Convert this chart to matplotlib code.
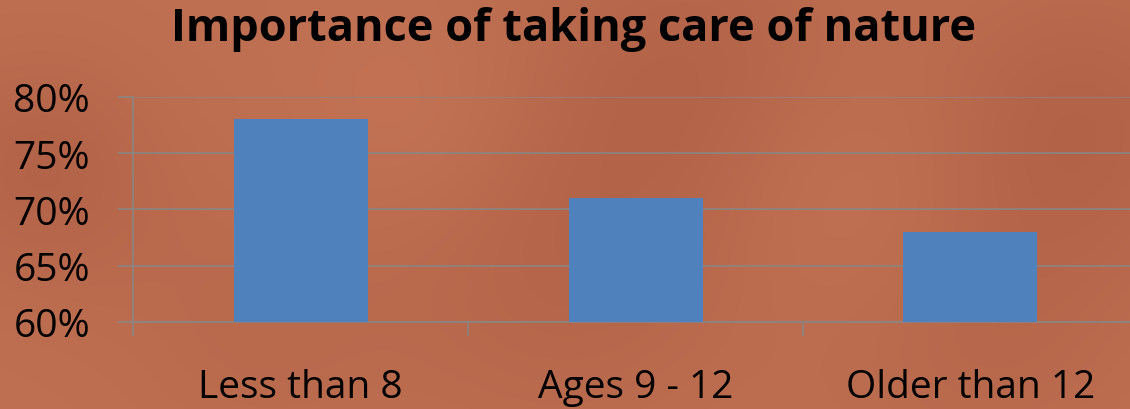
import numpy as np
import matplotlib
matplotlib.use("Agg")
from matplotlib import pyplot as plt

# Share of children who say caring for nature matters, by age group
groups = ["Less than 8", "Ages 9 - 12", "Older than 12"]
shares = [78, 71, 68]
yticks = [60, 65, 70, 75, 80]

plt.rcParams['font.family'] = ['Open Sans', 'DejaVu Sans']

fig = plt.figure(figsize=(11.3, 4.1), dpi=100)

# soft mottled terracotta backdrop
bg = fig.add_axes([0, 0, 1, 1])
gy, gx = np.mgrid[0:410, 0:1130]
base = np.array([192, 112, 82]) / 255.0
shade = np.zeros_like(gx, dtype=float)
for cx, cy, r, a in [(40, 170, 90, 0.6), (560, 260, 140, 0.5), (700, 60, 120, 0.5),
                     (1080, 120, 110, 0.6), (980, 330, 120, 0.4), (250, 330, 100, 0.3),
                     (420, 120, 80, -0.3), (850, 200, 90, -0.3)]:
    shade += a * np.exp(-((gx - cx) ** 2 + (gy - cy) ** 2) / (2 * r ** 2))
dark = np.array([172, 92, 66]) / 255.0
img = base[None, None, :] + shade[:, :, None] * (dark - base)[None, None, :]
bg.imshow(np.clip(img, 0, 1), extent=[0, 1, 0, 1], aspect='auto')
bg.axis('off')

ax = fig.add_axes([133 / 1130, 1 - 323 / 410, 1005 / 1130, 225 / 410])
ax.patch.set_alpha(0)

x = np.arange(1, len(groups) + 1)
ax.set_axisbelow(True)
ax.bar(x, shares, width=0.4, bottom=0, color='#4F81BD', zorder=3)

ax.set_xlim(0.5, 3.5)
ax.set_ylim(60, 80)
ax.set_yticks(yticks)
ax.set_yticklabels([f"{v}%" for v in yticks], fontsize=28)
ax.yaxis.grid(True, color='#878787', linewidth=1.1)

ax.set_xticks([0.5, 1.5, 2.5, 3.5])
ax.set_xticklabels([])
ax.set_xticks(x, minor=True)
ax.set_xticklabels(groups, minor=True, fontsize=28)
ax.tick_params(axis='x', which='major', length=10, color='#878787', width=1.1)
ax.tick_params(axis='x', which='minor', length=0, pad=33)
ax.tick_params(axis='y', length=11, color='#878787', width=1.1, pad=20)

for side in ['top', 'right']:
    ax.spines[side].set_visible(False)
for side in ['left', 'bottom']:
    ax.spines[side].set_color('#878787')
    ax.spines[side].set_linewidth(1.1)

fig.text(574 / 1130, 1 - 29 / 410, "Importance of taking care of nature",
         ha='center', va='center', fontsize=32.5, fontweight='bold')

fig.savefig("out.png", dpi=100)
